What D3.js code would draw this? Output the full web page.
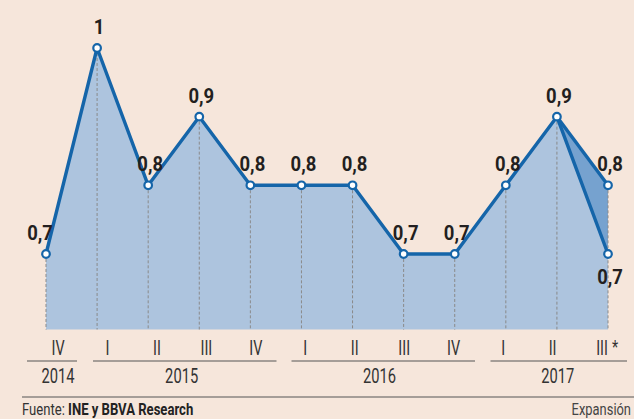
<!DOCTYPE html>
<html><head><meta charset="utf-8">
<script src="https://cdn.jsdelivr.net/npm/d3@7"></script>
<style>
html,body{margin:0;padding:0;background:#f6e6db;}
svg{display:block;}
text{font-family:Roboto,"Liberation Sans",sans-serif;}
</style></head>
<body>
<svg id="c" width="634" height="419"></svg>
<script>
const quarters = ["IV","I","II","III","IV","I","II","III","IV","I","II","III"];
const values = [0.7, 1.0, 0.8, 0.9, 0.8, 0.8, 0.8, 0.7, 0.7, 0.8, 0.9, 0.7];
const altLast = 0.8;
const labels = ["0,7","1","0,8","0,9","0,8","0,8","0,8","0,7","0,7","0,8","0,9","0,7"];
const altLabel = "0,8";
const years = [{label:"2014", from:0, to:0},{label:"2015", from:1, to:4},{label:"2016", from:5, to:8},{label:"2017", from:9, to:11}];

const svg = d3.select("#c");
const x = d3.scaleLinear().domain([0, values.length-1]).range([46, 608]);
const xLab = d3.scaleLinear().domain([0, quarters.length-1]).range([58, 602]);
const y = d3.scaleLinear().domain([0.59, 1.0]).range([329.5, 48]);
const base = 0.59;
const blue = "#1565a9";

function txt(px, py, str, size, weight, fill, sx, anchor){
  const t = svg.append("text")
    .attr("transform", `translate(${px},${py}) scale(${sx},1)`)
    .attr("text-anchor", anchor || "middle")
    .attr("font-size", size).attr("font-weight", weight).attr("fill", fill);
  if (str !== null) t.text(str);
  return t;
}

// main area
const pts = values.map((v,i)=>({i,v}));
svg.append("path")
  .attr("d", d3.area().x(d=>x(d.i)).y0(y(base)).y1(d=>y(d.v))(pts))
  .attr("fill","#adc4de");

// dark area between alternative and main last segment
const altData = [{i:10, v:values[10], w:values[10]}, {i:11, v:altLast, w:values[11]}];
svg.append("path")
  .attr("d", d3.area().x(d=>x(d.i)).y0(d=>y(d.w)).y1(d=>y(d.v))(altData))
  .attr("fill","#76a2cf");

// dashed verticals
svg.selectAll("line.v").data(pts).enter().append("line")
  .attr("x1",d=>x(d.i)).attr("x2",d=>x(d.i))
  .attr("y1",d=>y(d.i===11?altLast:d.v)).attr("y2",y(base))
  .attr("stroke","#8a8a8a").attr("stroke-width",1).attr("stroke-dasharray","3,2");

// lines
const line = d3.line().x(d=>x(d.i)).y(d=>y(d.v));
svg.append("path").attr("d", line([{i:10,v:values[10]},{i:11,v:altLast}]))
  .attr("fill","none").attr("stroke",blue).attr("stroke-width",3.4).attr("stroke-linejoin","round");
svg.append("path").attr("d", line(pts))
  .attr("fill","none").attr("stroke",blue).attr("stroke-width",3.4).attr("stroke-linejoin","round");

// markers
const allPts = pts.concat([{i:11, v:altLast}]);
svg.selectAll("circle").data(allPts).enter().append("circle")
  .attr("cx",d=>x(d.i)).attr("cy",d=>y(d.v)).attr("r",3.8)
  .attr("fill","#fff").attr("stroke",blue).attr("stroke-width",2.2);

// value labels
pts.forEach((d,k)=>{
  const below = k===11;
  txt(x(d.i) + (d.i===0 ? -6 : 2), below ? y(d.v)+30 : y(d.v)-14, labels[k], 21, "bold", "#231f20", 0.88);
});
txt(x(11)+2, y(altLast)-14, altLabel, 21, "bold", "#231f20", 0.88);

// quarter tick labels
quarters.forEach((q,i)=> txt(xLab(i), 355, q, 20, 400, "#333", 0.72));
txt(xLab(11)+13, 353, "*", 18, 400, "#333", 0.8);

// year lines and labels
const yearSpans = [[27,77],[93,276.5],[291.5,475],[490.5,627]];
years.forEach((yr,k)=>{
  svg.append("line").attr("x1",yearSpans[k][0]).attr("x2",yearSpans[k][1])
    .attr("y1",361).attr("y2",361).attr("stroke","#555").attr("stroke-width",1);
  const cx = k===3 ? (yearSpans[k][0]+yearSpans[k][1])/2 - 1 : (xLab(yr.from)+xLab(yr.to))/2;
  txt(cx, 383, yr.label, 21, 400, "#333", 0.7);
});

// bottom rule
svg.append("line").attr("x1",22).attr("x2",634).attr("y1",397).attr("y2",397).attr("stroke","#555").attr("stroke-width",1);

// footer
const f = txt(22, 415, null, 17, 400, "#333", 0.77, "start");
f.append("tspan").text("Fuente: ");
f.append("tspan").attr("font-weight","bold").attr("fill","#222").text("INE y BBVA Research");
txt(631, 415, "Expansión", 17, 400, "#444", 0.76, "end");
</script>
</body></html>
